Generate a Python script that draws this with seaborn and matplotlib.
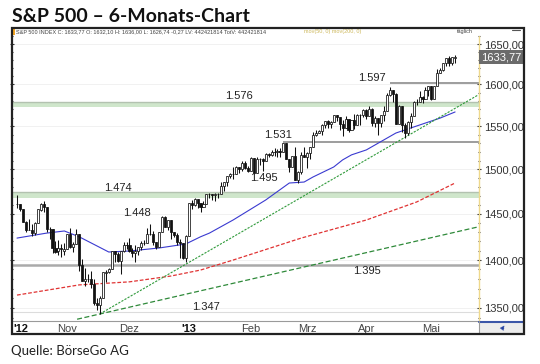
import numpy as np
import pandas as pd
import matplotlib
matplotlib.use("Agg")
import matplotlib.pyplot as plt
import matplotlib.transforms as mtransforms
from matplotlib.patches import Rectangle
from matplotlib.lines import Line2D
from matplotlib.ticker import FixedLocator, FuncFormatter, NullFormatter
import seaborn as sns

# ---------------- data (S&P 500 daily, 05.10.2012 - 13.05.2013) ----------------
holidays = ["2012-10-29", "2012-10-30", "2012-11-22", "2012-12-25",
            "2013-01-01", "2013-01-21", "2013-02-18", "2013-03-29"]
first_day, last_day = "2012-10-05", "2013-05-13"

opens = [
    # Oct
    1461.4, 1460.9, 1455.9, 1441.5, 1432.8, 1432.8, 1428.8, 1440.3, 1454.2, 1460.9, 1457.3, 1433.2, 1433.7, 1413.2, 1409.7, 1412.6, 1410.0,
    # Nov
    1412.2, 1427.6, 1414.0, 1417.3, 1428.3, 1394.5, 1377.6, 1379.9, 1380.0, 1374.6, 1355.4, 1353.4, 1359.9, 1386.8, 1387.8, 1391.0, 1409.2, 1406.3, 1398.8, 1409.9, 1416.0,
    # Dec
    1416.3, 1409.5, 1407.1, 1409.4, 1413.9, 1418.1, 1418.6, 1427.8, 1428.5, 1419.5, 1413.5, 1430.5, 1446.8, 1435.8, 1443.7, 1430.2, 1426.7, 1419.8, 1418.1, 1402.4,
    # Jan
    1426.2, 1462.4, 1459.4, 1466.5, 1461.9, 1457.2, 1461.0, 1472.1, 1472.1, 1470.7, 1472.3, 1472.6, 1480.9, 1486.0, 1492.6, 1494.8, 1494.8, 1503.0, 1500.2, 1507.8, 1502.0,
    # Feb
    1498.1, 1513.2, 1495.7, 1511.3, 1512.1, 1509.4, 1517.9, 1517.0, 1519.4, 1520.3, 1521.4, 1519.8, 1530.9, 1512.0, 1502.4, 1515.6, 1487.9, 1496.9, 1516.0,
    # Mar
    1514.7, 1518.2, 1525.2, 1539.8, 1541.5, 1544.3, 1551.2, 1556.2, 1552.5, 1554.5, 1563.2, 1560.7, 1552.1, 1548.3, 1558.7, 1545.9, 1556.9, 1551.7, 1563.8, 1562.9,
    # Apr
    1569.2, 1562.2, 1570.3, 1553.7, 1560.0, 1553.3, 1563.1, 1568.6, 1587.7, 1593.3, 1588.8, 1552.4, 1574.6, 1552.0, 1541.6, 1555.3, 1562.5, 1578.8, 1578.8, 1585.2, 1582.3, 1593.6,
    # May
    1597.6, 1582.8, 1597.6, 1614.4, 1617.6, 1626.0, 1632.7, 1626.7, 1632.1,
]
highs = [
    1471.0, 1460.9, 1455.9, 1442.5, 1443.9, 1438.4, 1441.3, 1455.5, 1462.2, 1464.0, 1457.3, 1435.5, 1433.7, 1420.0, 1421.1, 1417.1, 1418.8,
    1428.4, 1434.3, 1419.9, 1433.4, 1428.3, 1401.2, 1391.4, 1384.9, 1388.8, 1380.1, 1360.6, 1362.0, 1386.9, 1389.8, 1391.3, 1409.2, 1409.2, 1409.0, 1410.0, 1419.7, 1418.9,
    1423.7, 1413.1, 1415.6, 1413.9, 1420.3, 1421.6, 1434.3, 1438.6, 1431.4, 1419.5, 1430.7, 1448.0, 1447.8, 1443.7, 1443.7, 1430.2, 1429.4, 1422.8, 1418.1, 1426.7,
    1462.4, 1465.5, 1467.9, 1466.5, 1461.9, 1464.7, 1472.3, 1472.8, 1472.1, 1473.3, 1473.0, 1485.2, 1486.0, 1492.6, 1496.1, 1502.3, 1503.3, 1503.2, 1509.3, 1509.9, 1504.2,
    1514.4, 1513.2, 1514.0, 1512.5, 1512.9, 1518.3, 1518.3, 1522.3, 1524.7, 1523.1, 1524.2, 1530.9, 1530.9, 1512.0, 1515.6, 1525.8, 1498.1, 1520.1, 1525.3,
    1519.9, 1525.3, 1543.5, 1545.3, 1545.8, 1552.5, 1556.3, 1556.8, 1556.4, 1563.3, 1563.6, 1560.7, 1557.3, 1561.6, 1558.7, 1557.7, 1564.9, 1563.9, 1564.1, 1570.3,
    1570.6, 1573.7, 1571.5, 1562.6, 1560.0, 1563.1, 1573.9, 1589.1, 1597.4, 1593.3, 1589.1, 1575.4, 1574.6, 1554.4, 1555.9, 1565.6, 1579.6, 1583.0, 1592.6, 1585.8, 1596.6, 1597.6,
    1597.6, 1598.6, 1618.5, 1619.8, 1626.0, 1632.8, 1635.0, 1633.7, 1636.0,
]
lows = [
    1456.9, 1453.1, 1441.2, 1430.6, 1432.3, 1425.5, 1427.2, 1440.3, 1453.3, 1452.6, 1429.9, 1422.1, 1407.6, 1407.1, 1405.1, 1403.3, 1405.9,
    1412.2, 1412.9, 1408.1, 1417.3, 1388.1, 1377.5, 1373.0, 1377.2, 1370.8, 1352.5, 1348.1, 1343.4, 1359.9, 1377.0, 1386.4, 1391.0, 1397.7, 1398.0, 1385.4, 1409.0, 1411.6,
    1408.5, 1403.6, 1398.2, 1405.0, 1410.9, 1415.6, 1418.6, 1426.8, 1416.0, 1411.9, 1413.5, 1430.5, 1435.8, 1432.8, 1422.6, 1424.7, 1416.4, 1401.8, 1401.6, 1398.1,
    1426.2, 1455.5, 1458.6, 1456.6, 1451.6, 1457.2, 1461.0, 1467.6, 1465.7, 1463.8, 1467.5, 1472.6, 1475.8, 1481.2, 1489.9, 1489.5, 1494.8, 1496.3, 1498.1, 1500.1, 1497.2,
    1498.1, 1495.0, 1495.7, 1504.7, 1498.5, 1509.4, 1513.6, 1515.6, 1515.6, 1514.0, 1514.1, 1519.8, 1511.4, 1497.3, 1502.4, 1487.9, 1485.0, 1494.9, 1514.5,
    1501.5, 1512.3, 1525.2, 1538.1, 1541.5, 1539.5, 1547.4, 1548.2, 1548.3, 1554.5, 1555.7, 1545.1, 1538.6, 1548.3, 1543.6, 1545.9, 1546.2, 1551.7, 1551.9, 1561.1,
    1558.5, 1562.2, 1549.8, 1549.0, 1539.5, 1548.6, 1556.0, 1568.6, 1586.2, 1579.0, 1552.3, 1552.4, 1543.7, 1536.0, 1539.4, 1548.2, 1562.5, 1575.8, 1578.8, 1577.6, 1582.3, 1586.5,
    1581.3, 1582.8, 1597.6, 1614.2, 1616.6, 1622.7, 1623.1, 1623.7, 1626.7,
]
closes = [
    1460.9, 1455.9, 1441.5, 1432.6, 1432.8, 1428.6, 1440.1, 1454.9, 1460.9, 1457.3, 1433.2, 1433.8, 1413.1, 1408.8, 1413.0, 1411.9, 1412.2,
    1427.6, 1414.2, 1417.3, 1428.4, 1394.5, 1377.5, 1379.9, 1380.0, 1374.5, 1355.5, 1353.3, 1359.9, 1386.9, 1387.8, 1391.0, 1409.2, 1406.3, 1398.9, 1409.9, 1416.0, 1416.2,
    1409.5, 1407.1, 1409.3, 1413.9, 1418.1, 1418.6, 1427.8, 1428.5, 1419.5, 1413.6, 1430.4, 1446.8, 1435.8, 1443.7, 1430.2, 1426.7, 1419.8, 1418.1, 1402.4, 1426.2,
    1462.4, 1459.4, 1466.5, 1461.9, 1457.2, 1461.0, 1472.1, 1472.1, 1470.7, 1472.3, 1472.6, 1480.9, 1486.0, 1492.6, 1494.8, 1494.8, 1503.0, 1500.2, 1507.8, 1502.0, 1498.1,
    1513.2, 1495.7, 1511.3, 1512.1, 1509.4, 1517.9, 1517.0, 1519.4, 1520.3, 1521.4, 1519.8, 1530.9, 1512.0, 1502.4, 1515.6, 1487.9, 1496.9, 1516.0, 1514.7,
    1518.2, 1525.2, 1539.8, 1541.5, 1544.3, 1551.2, 1556.2, 1552.5, 1554.5, 1563.2, 1560.7, 1552.1, 1548.3, 1558.7, 1545.8, 1556.9, 1551.7, 1563.8, 1562.9, 1569.2,
    1562.2, 1570.3, 1553.7, 1560.0, 1553.3, 1563.1, 1568.6, 1587.7, 1593.4, 1588.9, 1552.4, 1574.6, 1552.0, 1541.6, 1555.3, 1562.5, 1578.8, 1578.8, 1585.2, 1582.2, 1593.6, 1597.6,
    1582.7, 1597.6, 1614.4, 1617.5, 1626.0, 1632.7, 1626.7, 1633.7, 1633.8,
]

# moving averages (trading-day index, value)
ma50_idx = [0, 10, 16, 21, 31, 38, 48, 57, 62, 65, 73, 84, 92, 97, 100, 107, 110, 113, 118, 128, 133, 143, 148]
ma50_val = [1423.6, 1429.0, 1431.3, 1425.0, 1408.6, 1409.7, 1412.9, 1417.2, 1425.0, 1429.0, 1443.3, 1465.4,
            1484.5, 1485.6, 1491.3, 1502.7, 1510.8, 1516.6, 1522.3, 1542.0, 1547.9, 1559.7, 1566.9]
ma200_idx = [0, 21, 38, 52, 62, 73, 96, 118, 135, 148]
ma200_val = [1363.2, 1373.8, 1377.0, 1383.1, 1389.4, 1400.0, 1423.6, 1443.3, 1463.2, 1484.5]

# trend lines (two anchor points each)
trend_steep_idx = [28, 155.7]
trend_steep_val = [1343.8, 1587.1]
trend_flat_idx = [20.3, 155.7]
trend_flat_val = [1338.4, 1435.7]

# horizontal levels
band_low = [1467.3, 1572.8]
band_high = [1474.7, 1579.4]
level_lines = [1601.5, 1531.5, 1394.7, 1345.8]
level_start = [126, 90, None, None]

# level labels
label_text = ["1.597", "1.576", "1.531", "1.495", "1.474", "1.448", "1.395", "1.347"]
label_idx = [119.9, 75.0, 88.2, 83.4, 34.1, 40.5, 118.2, 63.9]
label_val = [1607.9, 1586.0, 1539.7, 1490.2, 1478.9, 1451.0, 1388.3, 1350.9]

y_ticks = [1350, 1400, 1450, 1500, 1550, 1600, 1650]
month_names = ["'12", "Nov", "Dez", "'13", "Feb", "Mrz", "Apr", "Mai"]
last_close_label = 1633.77

# ---------------- derived ----------------
dates = pd.bdate_range(first_day, last_day)
dates = dates[~dates.isin(pd.to_datetime(holidays))]
n = len(closes)
assert len(dates) == n == len(opens) == len(highs) == len(lows)
idx = np.arange(n)
o, h, l, c = map(np.asarray, (opens, highs, lows, closes))
month_pos = [0] + [i for i in range(1, n) if dates[i].month != dates[i - 1].month]

# ---------------- figure ----------------
sns.set_style("white")
plt.rcParams["font.family"] = ["Liberation Sans", "DejaVu Sans"]

W, H = 540, 364
fig = plt.figure(figsize=(W / 100, H / 100), dpi=100)
fx = lambda px: px / W
fy = lambda py: 1 - py / H

ax = fig.add_axes([fx(12), fy(321), fx(479) - fx(12), fy(36) - fy(321)])
ax.set_yscale("log")
ax.set_ylim(1336.6, 1660.1)
ax.set_xlim(-1.69, 156.08)
ax.set_facecolor("white")

# grid
for v in y_ticks:
    ax.axhline(v, color="#efefef", lw=0.6, zorder=0.5)

# bands
for lo_, hi_ in zip(band_low, band_high):
    ax.axhspan(lo_, hi_, color="#cfe6cb", lw=0, zorder=1)
    ax.axhline(hi_, color="#b3c2b0", lw=1.0, zorder=1.2)

# level lines
for lv, st in zip(level_lines, level_start):
    if st is None:
        col = "#aaaaaa" if lv > 1380 else "#dcdcdc"
        lw = 1.8 if lv > 1380 else 0.8
        ax.axhline(lv, color=col, lw=lw, zorder=1.5)
    else:
        ax.hlines(lv, st, ax.get_xlim()[1], color="#8c8c8c", lw=1.2, zorder=1.5)

# moving averages / trend lines
sns.lineplot(x=ma200_idx, y=ma200_val, ax=ax, color="#e03333", lw=0.9,
             linestyle=(0, (3, 1.5)), estimator=None, zorder=3)
sns.lineplot(x=ma50_idx, y=ma50_val, ax=ax, color="#3a3ad0", lw=0.8,
             estimator=None, zorder=3)
sns.lineplot(x=trend_steep_idx, y=trend_steep_val, ax=ax, color="#2f9a3a", lw=0.8,
             linestyle=(0, (2, 1.2)), estimator=None, zorder=3)
sns.lineplot(x=trend_flat_idx, y=trend_flat_val, ax=ax, color="#2f8a3a", lw=0.9,
             linestyle=(0, (4, 2)), estimator=None, zorder=3)

# candlesticks
up = c >= o
ax.vlines(idx, l, h, color="#111111", lw=0.75, zorder=4)
ax.bar(idx[up], (c - o)[up], bottom=o[up], width=0.7, color="white",
       edgecolor="#111111", lw=0.55, zorder=5)
ax.bar(idx[~up], (o - c)[~up], bottom=c[~up], width=0.7, color="#111111",
       edgecolor="#111111", lw=0.55, zorder=5)

# level labels
for t, xi, yv in zip(label_text, label_idx, label_val):
    ax.text(xi, yv, t, ha="center", va="center", fontsize=8, color="#222222", zorder=6)

# y axis (right)
ax.yaxis.set_major_locator(FixedLocator(y_ticks))
ax.yaxis.set_major_formatter(FuncFormatter(lambda v, p: f"{v:.2f}".replace(".", ",")))
ax.yaxis.set_minor_locator(FixedLocator(np.arange(1340, 1661, 10)))
ax.yaxis.set_minor_formatter(NullFormatter())
ax.yaxis.set_ticks_position("both")
ax.tick_params(axis="y", which="both", labelleft=False, labelright=True,
               direction="inout", width=0.8, color="#333333",
               labelsize=8, labelcolor="#333333", pad=2)
ax.tick_params(axis="y", which="major", length=3.5)
ax.tick_params(axis="y", which="minor", length=2)

# x axis
ax.set_xticks(month_pos)
ax.set_xticklabels(month_names)
ax.tick_params(axis="x", length=0, pad=2.5, labelsize=8, labelcolor="#444444")
xtl = ax.get_xticklabels()
for tl in xtl:
    if tl.get_text().startswith("'"):
        tl.set_fontweight("bold")
        tl.set_color("#111111")
xtl[0].set_horizontalalignment("left")
xtl[0].set_transform(xtl[0].get_transform() +
                     mtransforms.ScaledTranslation(-3.5 / 100, 0, fig.dpi_scale_trans))
ax.set_xlabel("")
ax.set_ylabel("")

for s in ["left", "top"]:
    ax.spines[s].set_visible(False)
ax.spines["right"].set(color="#efd98c", lw=1.0, linestyle=(0, (1, 1)))
ax.spines["bottom"].set(color="#9a9a9a", lw=0.8)

# last price box
trans = mtransforms.blended_transform_factory(ax.transAxes, ax.transData)
ax.text(1.004, last_close_label, f"{last_close_label:.2f}".replace(".", ","),
        transform=trans, ha="left", va="center", fontsize=8, color="white",
        bbox=dict(boxstyle="square,pad=0.18", fc="#6b6b6b", ec="none"),
        zorder=10, clip_on=False)

# bottom-right cell
fig.patches.append(Rectangle((fx(479), fy(334)), fx(524) - fx(479), fy(321) - fy(334),
                             transform=fig.transFigure, fc="#ececec", ec="none", zorder=1))
fig.lines.append(Line2D([fx(479), fx(524)], [fy(321.5), fy(321.5)], transform=fig.transFigure,
                        color="#3b56a8", lw=1.5, zorder=2))
fig.lines.append(Line2D([fx(479), fx(479)], [fy(321), fy(334)], transform=fig.transFigure,
                        color="#9a9a9a", lw=0.8, zorder=2))
fig.text(fx(502), fy(328), "\u25B2", fontsize=4.5, color="#2340a0", ha="center", va="center",
         rotation=-35, family=["DejaVu Sans"])

# header strip
fig.patches.append(Rectangle((fx(12), fy(35)), fx(15) - fx(12), fy(28) - fy(35),
                             transform=fig.transFigure, fc="#f5a623", ec="none", zorder=3))
fig.text(fx(16.5), fy(31.8),
         "S&P 500 INDEX C: 1633,77 O: 1632,10 H: 1636,00 L: 1626,74 -0,27 LV: 442421814 TotV: 442421814",
         fontsize=4, color="#444444", va="center", ha="left")
fig.text(fx(304), fy(31.8), "mov(50, 0) mov(200, 0)", fontsize=4, color="#cdb85c",
         va="center", ha="left")
fig.text(fx(465), fy(31.3), "täglich", fontsize=4, color="#444444", va="center", ha="center")
fig.lines.append(Line2D([fx(512), fx(520)], [fy(30), fy(30)], transform=fig.transFigure,
                        color="#555555", lw=0.8))

# outer frame
fig.patches.append(Rectangle((fx(12), fy(334)), fx(524) - fx(12), fy(28) - fy(334),
                             transform=fig.transFigure, fill=False, ec="#222222", lw=1.6, zorder=20))

# title & source
fig.text(fx(12), fy(22.5), "S&P 500 \u2013 6-Monats-Chart", fontsize=14, fontweight="bold",
         family=["Lato", "DejaVu Sans"], color="#111111", va="baseline", ha="left")
fig.text(fx(11), fy(355), "Quelle: BörseGo AG", fontsize=9.5,
         family=["Lato", "DejaVu Sans"], color="#222222", va="baseline", ha="left")

fig.savefig("out.png", dpi=100)
